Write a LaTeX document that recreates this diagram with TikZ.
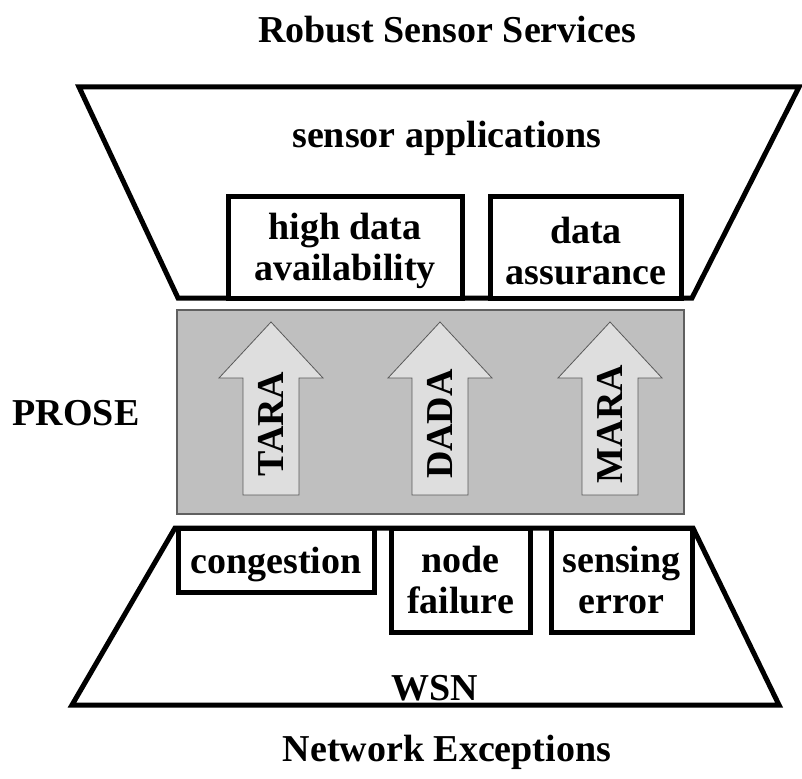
\documentclass[tikz,border=0pt]{standalone}
\usepackage{fontspec}
\setmainfont{Liberation Serif}
\begin{document}
\begin{tikzpicture}[x=1pt,y=-1pt,
  lbl/.style={font=\fontsize{38}{41}\selectfont\bfseries, inner sep=0pt, align=center},
  frame/.style={draw=black, line width=5pt, line join=miter},
  itembox/.style={frame, fill=white, rectangle, minimum width=#1, inner sep=0pt},
  uparrow/.style={draw=gray!70!black, line width=0.8pt, fill=black!13, line join=miter}]
\useasboundingbox (0,0) rectangle (802,778);

% titles
\node[lbl] (title) at (447,30) {Robust Sensor Services};
\node[lbl] (bottomtitle) at (447,752) {Network Exceptions};
\node[lbl] (prose) at (76,413) {PROSE};

% upper trapezoid: sensor applications
\draw[frame] (79,87) -- (799,87) -- (692,298) -- (178,298) -- cycle;
\node[lbl] (apps) at (447,138) {sensor applications};
\node[itembox=234pt, minimum height=102pt] (hda) at (345,247) {};
\node[lbl] at ([yshift=-4pt]hda.center) {high data\\availability};
\node[itembox=191pt, minimum height=102pt] (da) at (586,247) {};
\node[lbl] at ([yshift=-4pt]da.center) {data\\assurance};

% PROSE band with the three mechanisms
\node[draw=gray!75!black, line width=1.2pt, fill=black!25, minimum width=507pt,
      minimum height=204pt, inner sep=0pt] (band) at (430.5,412) {};
\foreach \x/\nm/\t in {271/tara/TARA, 440/dada/DADA, 610/mara/MARA}{
  \coordinate (\nm) at (\x,322);
  \draw[uparrow] (\nm) -- ++(52,56) -- ++(-24,0) -- ++(0,117) -- ++(-56,0)
     -- ++(0,-117) -- ++(-24,0) -- cycle;
  \node[lbl, rotate=90] at (\x,424) {\t};
}

% lower trapezoid: WSN
\draw[frame] (175,528) -- (693,528) -- (779,705) -- (72,705) -- cycle;
\node[itembox=196pt, minimum height=64pt] (cong) at (276,560) {};
\node[lbl] at ([yshift=-5pt]cong.center) {congestion};
\node[itembox=139pt, minimum height=104pt] (nf) at (460.5,580) {};
\node[lbl] at (nf.center) {node\\failure};
\node[itembox=141pt, minimum height=104pt] (se) at (621.5,580) {};
\node[lbl] at (se.center) {sensing\\error};
\node[lbl] (wsn) at (435,688) {WSN};
\end{tikzpicture}
\end{document}
